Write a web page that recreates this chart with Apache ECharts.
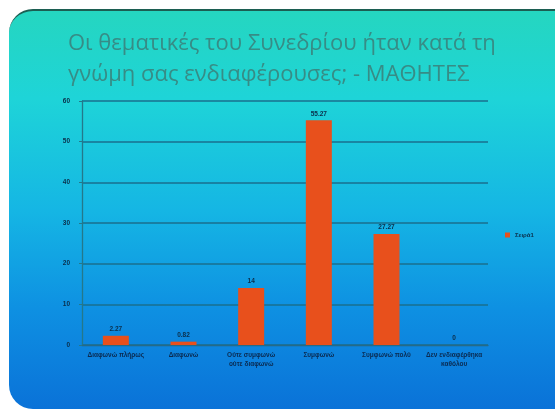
<!DOCTYPE html>
<html><head><meta charset="utf-8">
<script src="https://cdn.jsdelivr.net/npm/echarts@6/dist/echarts.min.js"></script>
<style>
html,body{margin:0;padding:0;background:#fff;width:555px;height:414px;overflow:hidden;}
#slide{position:absolute;left:9px;top:9px;width:580px;height:400px;border-radius:24px;
background:linear-gradient(to bottom,#25d6c0 0%,#1ed4d8 22%,#15b6e4 50%,#0e90e2 75%,#0a72d8 100%);
border-top:2px solid #1c5e52;box-sizing:border-box;}
#main{position:absolute;left:0;top:0;width:555px;height:414px;}
</style></head>
<body><div id="slide"></div><div id="main"></div>
<script>
const titleText = "Οι θεματικές του Συνεδρίου ήταν κατά τη\nγνώμη σας ενδιαφέρουσες; - ΜΑΘΗΤΕΣ";
const categories = ["Διαφωνώ πλήρως","Διαφωνώ","Ούτε συμφωνώ\nούτε διαφωνώ","Συμφωνώ","Συμφωνώ πολύ","Δεν ενδιαφέρθηκα\nκαθόλου"];
const seriesName = "Σειρά1";
const values = [2.27, 0.82, 14, 55.27, 27.27, 0];
const yMin = 0, yMax = 60, yInterval = 10;

const chart = echarts.init(document.getElementById('main'), null, {renderer:'canvas'});
chart.setOption({
  backgroundColor:'transparent',
  animation:false,
  title:{text:titleText,left:63,top:23,textStyle:{color:'#378c86',fontSize:22,fontWeight:'normal',fontFamily:'Open Sans',lineHeight:31}},
  legend:{data:[seriesName],orient:'vertical',left:500,top:227,itemWidth:5,itemHeight:5,icon:'rect',itemGap:4,
    textStyle:{color:'#0b2e4a',fontSize:6,fontWeight:'bold'}},
  grid:{left:82,right:67,top:101,bottom:69,containLabel:false},
  xAxis:{type:'category',data:categories,
    axisLine:{lineStyle:{color:'#246a88',width:1.3}},axisTick:{show:false},
    axisLabel:{color:'#0b2a50',fontSize:6.5,fontWeight:'bold',interval:0,margin:6,lineHeight:9}},
  yAxis:{type:'value',min:yMin,max:yMax,interval:yInterval,
    axisLine:{show:true,lineStyle:{color:'#24788a',width:1.3}},
    axisTick:{show:true,length:3,lineStyle:{color:'#24788a'}},
    splitLine:{lineStyle:{color:'#1a6f8e',width:1.5}},
    axisLabel:{color:'#0b2e4a',fontSize:6.5,fontWeight:'bold',margin:12}},
  series:[{name:seriesName,type:'bar',data:values,barWidth:26,
    itemStyle:{color:'#e8501c'},
    label:{show:true,position:'top',color:'#0b2e4a',fontSize:6.5,fontWeight:'bold',distance:3}}]
});
</script></body></html>
